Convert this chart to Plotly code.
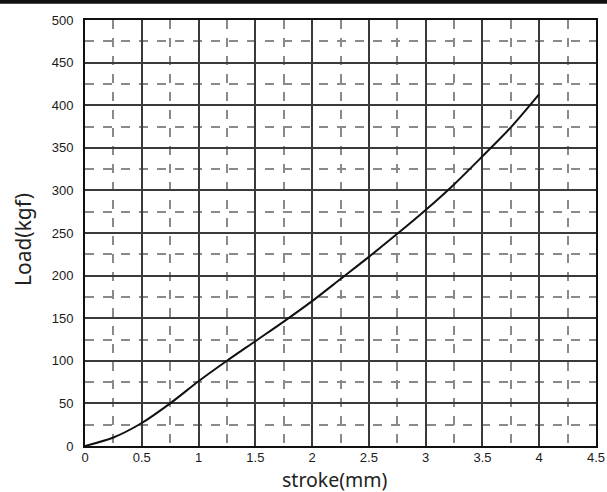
import plotly.graph_objects as go

stroke_mm = [0, 0.25, 0.5, 0.75, 1.0, 1.25, 1.5, 1.75, 2.0, 2.25, 2.5, 2.75, 3.0, 3.25, 3.5, 3.75, 4.0]
load_kgf = [0, 10, 27, 50, 76, 100, 123, 146, 170, 196, 222, 249, 277, 307, 340, 374, 413]

x_ticks = [0, 0.5, 1, 1.5, 2, 2.5, 3, 3.5, 4, 4.5]
x_tick_labels = ["0", "0.5", "1", "1.5", "2", "2.5", "3", "3.5", "4", "4.5"]
y_ticks = [0, 50, 100, 150, 200, 250, 300, 350, 400, 450, 500]

fig = go.Figure()
fig.add_trace(go.Scatter(
    x=stroke_mm, y=load_kgf, mode="lines",
    line=dict(color="#111111", width=2, shape="spline", smoothing=0.8),
    showlegend=False,
))

tickfont = dict(family="Liberation Sans, Arial, sans-serif", size=13, color="#1a1a1a")
titlefont = dict(family="Noto Sans, DejaVu Sans, sans-serif", size=19.5, color="#222222")
ytitlefont = dict(family="Noto Sans, DejaVu Sans, sans-serif", size=21, color="#222222")

fig.update_xaxes(
    range=[0, 4.5], tickvals=x_ticks, ticktext=x_tick_labels,
    showgrid=True, gridcolor="#3a3a3a", gridwidth=1.5,
    minor=dict(dtick=0.25, showgrid=True, gridcolor="#8a8a8a", griddash="dash", gridwidth=1.5),
    showline=True, linecolor="#111111", linewidth=2, mirror=True,
    zeroline=False, ticks="", tickfont=tickfont, ticklabelstandoff=-2, automargin=False,
)
fig.update_yaxes(
    range=[0, 500], tickvals=y_ticks,
    showgrid=True, gridcolor="#3a3a3a", gridwidth=1.5,
    minor=dict(dtick=25, showgrid=True, gridcolor="#8a8a8a", griddash="dash", gridwidth=1.5),
    showline=True, linecolor="#111111", linewidth=2, mirror=True,
    zeroline=False, ticks="", tickfont=tickfont, ticklabelstandoff=7, automargin=False,
)

# axis titles
fig.add_annotation(text="stroke(mm)", xref="paper", yref="paper", x=0.49, y=-0.079,
                   xanchor="center", yanchor="middle", showarrow=False, font=titlefont)
fig.add_annotation(text="Load(kgf)", xref="paper", yref="paper", x=-0.12, y=0.485,
                   xanchor="center", yanchor="middle", textangle=-90, showarrow=False, font=ytitlefont)

# dark scan edge across the top of the image
fig.add_shape(type="line", xref="paper", yref="paper",
              x0=-0.2, x1=1.05, y0=1.043, y1=1.043,
              line=dict(color="#111111", width=4))

fig.update_layout(
    width=607, height=492,
    margin=dict(l=85, r=11, t=20, b=46),
    paper_bgcolor="white", plot_bgcolor="white",
)

fig.write_html(
    "out.html",
    config={"displayModeBar": False},
    post_script="document.body.style.margin='0';document.body.style.overflow='hidden';",
)
